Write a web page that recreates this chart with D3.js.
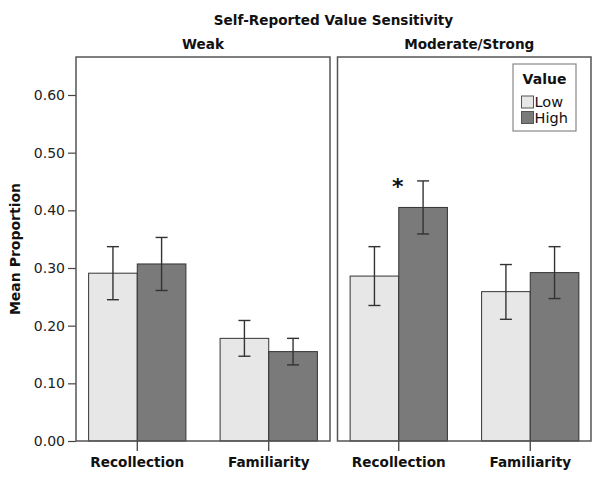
<!DOCTYPE html>
<html>
<head>
<meta charset="utf-8">
<script src="https://cdn.jsdelivr.net/npm/d3@7"></script>
<style>
  html, body { margin: 0; padding: 0; background: #fff; }
  svg { display: block; font-family: "DejaVu Sans", sans-serif; }
</style>
</head>
<body>
<svg id="chart" width="604" height="479"></svg>
<script>
// ---- Data ----
const panels = ["Weak", "Moderate/Strong"];
const categories = ["Recollection", "Familiarity"];
const series = ["Low", "High"];
// means[panel][category][series]
const meansWeak = [[0.291, 0.307], [0.178, 0.155]];
const meansModerate = [[0.286, 0.405], [0.259, 0.292]];
// error bar bounds [lower, upper]
const errWeak = [[[0.245, 0.337], [0.261, 0.353]], [[0.147, 0.209], [0.132, 0.178]]];
const errModerate = [[[0.235, 0.337], [0.359, 0.451]], [[0.211, 0.306], [0.247, 0.337]]];
const yTicks = [0, 0.1, 0.2, 0.3, 0.4, 0.5, 0.6];
// significance marker: panel index, category index
const sigMarks = [{ panel: 1, category: 0, label: "*" }];

const title = "Self-Reported Value Sensitivity";
const yTitle = "Mean Proportion";
const legendTitle = "Value";
const colors = { Low: "#e7e7e7", High: "#7a7a7a" };

const means = [meansWeak, meansModerate];
const errs = [errWeak, errModerate];

// ---- Layout ----
const svg = d3.select("#chart");
const panelX = [[76, 330], [337.5, 591]];
const panelTop = 57, panelBottom = 441;

const y = d3.scaleLinear().domain([0, 0.6]).range([441, 95]);

const x0 = d3.scaleBand().domain(categories).range([0, 254])
  .paddingInner(0.26).paddingOuter(0.096);
const x1 = d3.scaleBand().domain(series).range([0, x0.bandwidth()]).padding(0);

// Title
svg.append("text")
  .attr("x", (panelX[0][0] + panelX[1][1]) / 2).attr("y", 25)
  .attr("text-anchor", "middle").attr("font-size", 13.6).attr("font-weight", "bold")
  .attr("fill", "#111").text(title);

// Y title
svg.append("text")
  .attr("transform", `translate(20,${(panelTop + panelBottom) / 2}) rotate(-90)`)
  .attr("text-anchor", "middle").attr("font-size", 14).attr("font-weight", "bold")
  .attr("fill", "#111").text(yTitle);

// Y axis
const yAxis = d3.axisLeft(y).tickValues(yTicks).tickFormat(d3.format(".2f"))
  .tickSize(8).tickPadding(3);
const yg = svg.append("g").attr("transform", `translate(${panelX[0][0]},0)`).call(yAxis);
yg.select(".domain").remove();
yg.selectAll(".tick line").attr("stroke", "#444").attr("stroke-width", 1.2);
yg.selectAll(".tick text").attr("font-size", 14).attr("fill", "#222")
  .attr("font-family", "DejaVu Sans, sans-serif");

panels.forEach((p, pi) => {
  const [px0, px1] = panelX[pi];
  const g = svg.append("g").attr("transform", `translate(${px0},0)`);

  // Panel label
  svg.append("text")
    .attr("x", pi === 0 ? (px0 + px1) / 2 : (px0 + px1) / 2 + 5).attr("y", 49)
    .attr("text-anchor", "middle").attr("font-size", 13.6).attr("font-weight", "bold")
    .attr("fill", "#111").text(p);

  // Bars
  categories.forEach((c, ci) => {
    const cg = g.append("g").attr("transform", `translate(${x0(c)},0)`);
    series.forEach((s, si) => {
      const v = means[pi][ci][si];
      cg.append("rect")
        .attr("x", x1(s)).attr("y", y(v))
        .attr("width", x1.bandwidth()).attr("height", y(0) - y(v))
        .attr("fill", colors[s]).attr("stroke", "#333").attr("stroke-width", 1);
    });
    series.forEach((s, si) => {
      const [lo, hi] = errs[pi][ci][si];
      const cx = x1(s) + x1.bandwidth() / 2;
      const eg = cg.append("g").attr("stroke", "#333").attr("stroke-width", 1.4);
      eg.append("line").attr("x1", cx).attr("x2", cx).attr("y1", y(lo)).attr("y2", y(hi));
      eg.append("line").attr("x1", cx - 6).attr("x2", cx + 6).attr("y1", y(lo)).attr("y2", y(lo));
      eg.append("line").attr("x1", cx - 6).attr("x2", cx + 6).attr("y1", y(hi)).attr("y2", y(hi));
    });
  });

  // X axis
  const xAxis = d3.axisBottom(x0).tickSize(10).tickPadding(6);
  const xg = g.append("g").attr("transform", `translate(0,${panelBottom})`).call(xAxis);
  xg.select(".domain").remove();
  xg.selectAll(".tick line").attr("stroke", "#333").attr("stroke-width", 1.2);
  xg.selectAll(".tick text").attr("font-size", 13.6).attr("font-weight", "bold")
    .attr("fill", "#111").attr("font-family", "DejaVu Sans, sans-serif")
    .attr("dy", "0.72em");

  // Frame
  svg.append("rect")
    .attr("x", px0).attr("y", panelTop).attr("width", px1 - px0).attr("height", panelBottom - panelTop)
    .attr("fill", "none").attr("stroke", "#555").attr("stroke-width", 1.5);
});

// Significance markers
sigMarks.forEach(m => {
  const cx = panelX[m.panel][0] + x0(categories[m.category]) + x1.bandwidth() - 1;
  svg.append("text")
    .attr("x", cx).attr("y", y(errs[m.panel][m.category][1][1]) + 13)
    .attr("text-anchor", "middle").attr("font-size", 22).attr("font-weight", "bold")
    .attr("fill", "#111").text(m.label);
});

// Legend
const lg = svg.append("g").attr("transform", "translate(513,64)");
lg.append("rect").attr("width", 63).attr("height", 67)
  .attr("fill", "#fff").attr("stroke", "#888").attr("stroke-width", 1.2);
lg.append("text").attr("x", 31.5).attr("y", 20).attr("text-anchor", "middle")
  .attr("font-size", 14).attr("font-weight", "bold").attr("fill", "#111").text(legendTitle);
series.forEach((s, i) => {
  const row = lg.append("g").attr("transform", `translate(8.5,${32 + i * 15.5})`);
  row.append("rect").attr("width", 12).attr("height", 12)
    .attr("fill", colors[s]).attr("stroke", "#555").attr("stroke-width", 1);
  row.append("text").attr("x", 13).attr("y", 11).attr("font-size", 14.5)
    .attr("fill", "#111").text(s);
});
</script>
</body>
</html>
